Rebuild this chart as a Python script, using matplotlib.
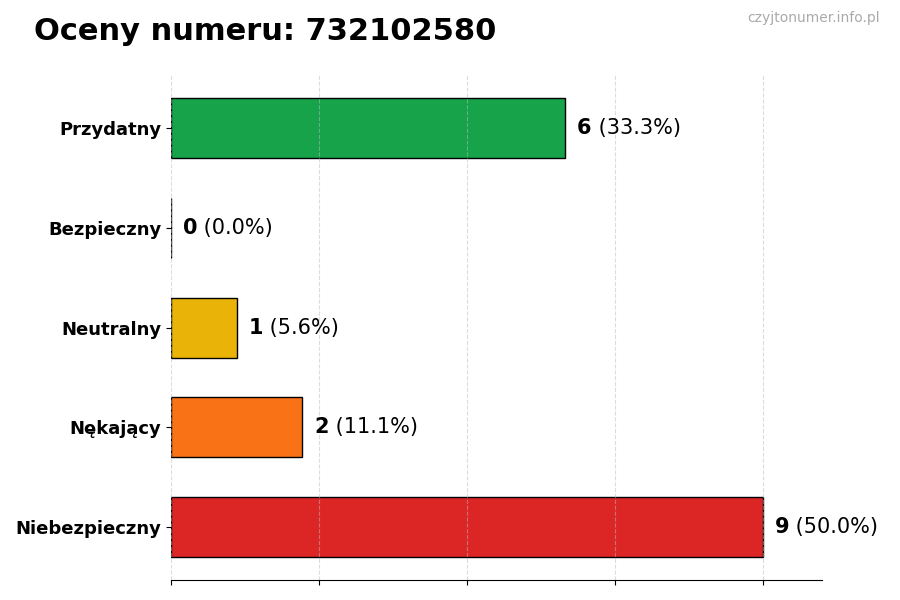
import matplotlib.pyplot as plt
import numpy as np

categories = ['Niebezpieczny', 'Nękający', 'Neutralny', 'Bezpieczny', 'Przydatny']
counts = [9, 2, 1, 0, 6]
colors = ['#dc2626', '#f97316', '#eab308', '#6b7280', '#16a34a']
phone = '732102580'

total = sum(counts)
vmax = max(counts)

fig = plt.figure(figsize=(9, 6), dpi=100)
ax = fig.add_axes([0.19, 0.033, 0.723, 0.842])

y = np.arange(len(categories))
ax.barh(y, counts, height=0.6, color=colors, edgecolor='black', linewidth=1, zorder=2)

# value labels: bold count + normal percent
for yi, v in zip(y, counts):
    t = ax.text(v + vmax * 0.02, yi, str(v), fontsize=15, fontweight='bold',
                va='center', ha='left', zorder=4)
    ax.annotate(' (%.1f%%)' % (100.0 * v / total), xy=(1, 0), xycoords=t,
                va='bottom', ha='left', fontsize=15)

ax.set_yticks(y)
ax.set_yticklabels(categories, fontsize=13, fontweight='bold')
ax.set_xlim(0, vmax * 1.1)
ax.set_xticks(np.linspace(0, vmax, 5))
ax.set_xticklabels([])
ax.set_axisbelow(False)
ax.grid(axis='x', linestyle='--', color='#bbbbbb', linewidth=0.8, alpha=0.5, zorder=3)

for side in ['top', 'right', 'left']:
    ax.spines[side].set_visible(False)

fig.text(0.038, 0.948, 'Oceny numeru: ' + phone, fontsize=22, fontweight='bold',
         va='center', ha='left')
fig.text(0.978, 0.97, 'czyjtonumer.info.pl', fontsize=10, color='#aaaaaa',
         va='center', ha='right')

fig.savefig('out.png', dpi=100)
